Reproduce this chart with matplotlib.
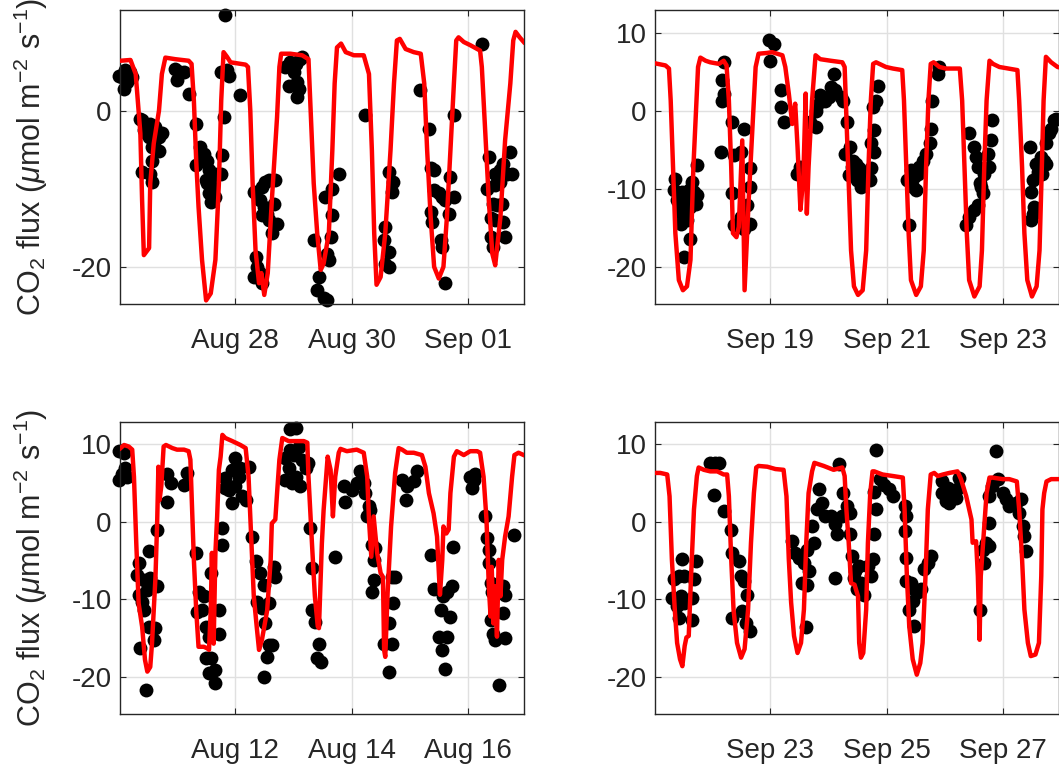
import numpy as np
import matplotlib
matplotlib.use("Agg")
import matplotlib.pyplot as plt
import matplotlib.dates as mdates
from matplotlib.ticker import FixedLocator

plt.rcParams["font.family"] = ["Liberation Sans", "DejaVu Sans"]
plt.rcParams["mathtext.fontset"] = "custom"
plt.rcParams["mathtext.rm"] = "Liberation Sans"
plt.rcParams["mathtext.it"] = "Liberation Sans:italic"
plt.rcParams["axes.unicode_minus"] = False

# ---------------------------------------------------------------------------
# Modelled (line) and measured (dots) CO2 flux, time in days from window start
# ---------------------------------------------------------------------------

# Window 1: Aug 26 - Sep 02
w1_start = "2015-08-26"
w1_model_day = [0.03, 0.20, 0.29, 0.37, 0.40, 0.43, 0.52, 0.54, 0.60, 0.69, 0.74, 0.80, 0.97, 1.20,
                1.25, 1.29, 1.33, 1.37, 1.43, 1.50, 1.58, 1.66, 1.72, 1.76, 1.80, 1.86, 1.92, 2.18,
                2.22, 2.26, 2.30, 2.35, 2.41, 2.45, 2.50, 2.56, 2.63, 2.72, 2.76, 2.79, 2.95, 3.15,
                3.26, 3.29, 3.35, 3.41, 3.47, 3.52, 3.61, 3.67, 3.71, 3.75, 3.82, 3.90, 4.04, 4.21,
                4.30, 4.35, 4.39, 4.43, 4.50, 4.58, 4.67, 4.73, 4.78, 4.83, 4.93, 5.07, 5.19, 5.25,
                5.30, 5.36, 5.42, 5.50, 5.58, 5.64, 5.70, 5.76, 5.80, 5.84, 5.93, 6.04, 6.21, 6.24,
                6.30, 6.36, 6.42, 6.47, 6.56, 6.64, 6.73, 6.78, 6.82, 6.89, 6.96]
w1_model_flux = [6.4, 6.5, 4.7, -2.9, -11.5, -18.5, -17.6, -9.3, -4.2, 0.0, 4.7, 6.8, 6.6, 6.4,
                 6.0, 1.3, -6.4, -12.3, -19.1, -24.3, -23.4, -19.1, -9.3, 1.3, 7.5, 6.9, 6.2, 5.9,
                 5.6, 0.0, -9.3, -17.9, -22.1, -20.8, -23.6, -20.8, -11.5, -0.8, 5.6, 7.3, 7.3, 7.1,
                 6.6, 1.3, -9.3, -15.7, -20.4, -19.6, -15.7, -5.1, 3.5, 8.1, 8.6, 7.5, 7.1, 7.1,
                 4.7, -5.1, -15.7, -22.3, -21.3, -15.7, -5.1, 3.5, 9.0, 9.2, 7.9, 7.5, 7.3, 3.5,
                 -5.1, -13.6, -20.0, -21.5, -20.0, -13.6, -5.1, 3.5, 9.0, 9.4, 8.8, 8.4, 7.7, 5.6,
                 -2.9, -11.5, -18.3, -19.8, -13.6, -3.8, 3.5, 9.0, 10.1, 9.4, 8.8]
w1_obs_day = [0.00, 0.06, 0.09, 0.11, 0.14, 0.17, 0.20, 0.23, 0.37, 0.40, 0.49, 0.54, 0.60, 0.63,
              0.69, 0.74, 0.52, 0.57, 0.69, 0.40, 0.54, 0.57, 0.46, 0.63, 0.43, 0.57, 0.97, 1.06,
              1.12, 1.00, 1.20, 1.32, 1.40, 1.46, 1.52, 1.32, 1.55, 1.58, 1.52, 1.60, 1.55, 1.58,
              1.66, 1.75, 1.78, 1.80, 1.43, 1.49, 1.66, 1.75, 1.83, 1.86, 1.89, 2.09, 2.86, 2.95,
              3.04, 3.12, 3.01, 3.06, 2.92, 3.09, 3.06, 3.15, 2.32, 2.46, 2.52, 2.58, 2.69, 2.43,
              2.49, 2.55, 2.66, 2.46, 2.58, 2.63, 2.72, 2.35, 2.38, 2.32, 2.43, 2.46, 3.35, 3.44,
              3.41, 3.52, 3.58, 3.61, 3.58, 3.64, 3.67, 3.55, 3.67, 3.78, 4.24, 4.64, 4.72, 4.70,
              4.58, 4.55, 4.64, 4.58, 4.64, 5.18, 5.33, 5.36, 5.41, 5.41, 5.50, 5.56, 5.61, 5.70,
              5.76, 5.67, 5.36, 5.39, 5.53, 5.56, 5.61, 5.76, 6.24, 6.36, 6.47, 6.56, 6.67, 6.73,
              6.61, 6.76, 6.33, 6.47, 6.56, 6.44, 6.50, 6.59, 6.39, 6.47, 6.61, 6.39, 6.44, 6.64]
w1_obs_flux = [4.5, 4.3, 2.8, 5.2, 3.7, 4.7, 4.9, 4.3, -1.0, -1.2, -2.1, -1.7, -1.9, -2.1,
               -3.4, -2.9, -3.4, -4.6, -5.1, -7.8, -8.1, -9.1, -2.9, -3.8, -2.5, -6.4, 5.4, 4.9,
               4.9, 3.9, 2.2, -1.7, -4.6, -5.5, -6.4, -7.0, -7.6, -8.5, -9.3, -9.8, -10.6, -11.7,
               -8.1, -8.1, -5.7, -0.8, -6.4, -8.9, -11.0, 4.9, 12.2, 5.2, 4.5, 2.0, 5.6, 6.2,
               6.0, 6.6, 4.9, 3.7, 3.2, 2.8, 1.7, 6.9, -10.4, -9.8, -9.1, -8.9, -8.9, -11.5,
               -12.3, -13.2, -11.9, -13.4, -14.0, -15.7, -14.5, -18.7, -20.0, -21.3, -20.8, -22.1, -16.6, -21.3,
               -23.0, -24.0, -24.3, -19.1, -18.3, -16.2, -13.4, -11.0, -10.0, -8.1, -0.6, -7.8, -9.1, -10.4,
               -14.9, -16.6, -18.1, -19.6, -20.0, 2.6, -2.3, -7.4, -7.6, -10.2, -10.6, -11.0, -11.5, -8.5,
               -11.0, -13.2, -13.0, -14.2, -16.6, -17.4, -22.1, -0.6, 8.6, -5.9, -8.1, -7.6, -8.1, -5.3,
               -6.8, -8.1, -10.0, -9.5, -9.1, -11.9, -12.1, -11.9, -13.8, -14.0, -14.2, -16.2, -17.4, -16.2]

# Window 2: Sep 17 - Sep 24
w2_start = "2015-09-17"
w2_model_day = [0.00, 0.20, 0.26, 0.29, 0.33, 0.37, 0.43, 0.50, 0.57, 0.63, 0.68, 0.72, 0.76, 0.80,
                0.89, 0.97, 1.12, 1.20, 1.25, 1.29, 1.33, 1.36, 1.42, 1.46, 1.52, 1.56, 1.63, 1.69,
                1.75, 1.80, 1.95, 2.03, 2.12, 2.21, 2.26, 2.32, 2.38, 2.43, 2.47, 2.52, 2.57, 2.61,
                2.63, 2.66, 2.72, 2.78, 2.86, 3.04, 3.24, 3.28, 3.31, 3.35, 3.39, 3.44, 3.51, 3.59,
                3.65, 3.69, 3.73, 3.77, 3.82, 3.99, 4.11, 4.27, 4.30, 4.34, 4.38, 4.42, 4.51, 4.59,
                4.64, 4.68, 4.72, 4.76, 4.81, 4.91, 5.02, 5.26, 5.30, 5.34, 5.38, 5.42, 5.51, 5.60,
                5.64, 5.68, 5.72, 5.77, 5.83, 5.94, 6.25, 6.28, 6.33, 6.37, 6.42, 6.50, 6.58, 6.63,
                6.67, 6.70, 6.74, 6.83, 6.94, 7.00]
w2_model_flux = [6.1, 5.8, 5.4, 1.3, -7.2, -15.7, -21.7, -23.0, -22.5, -19.1, -7.2, -0.8, 5.6, 6.8,
                 6.4, 6.2, 6.0, 6.4, 5.8, 1.3, -7.2, -15.7, -16.2, -14.9, -3.8, -23.0, -11.5, -2.9,
                 5.6, 7.3, 7.4, 7.5, 7.3, 7.1, 5.6, 2.2, -1.7, 0.9, -4.6, -12.7, -8.5, 2.2,
                 -13.2, -7.2, 1.3, 7.1, 6.6, 6.4, 6.2, 5.6, -0.8, -9.3, -17.9, -22.5, -23.6, -23.0,
                 -17.9, -7.2, 1.3, 6.0, 6.2, 5.6, 5.4, 5.2, 1.3, -7.2, -15.7, -21.7, -23.6, -22.5,
                 -17.9, -7.2, 1.3, 6.0, 6.2, 5.6, 5.4, 5.4, 1.3, -7.2, -15.7, -21.7, -23.8, -22.5,
                 -17.9, -7.2, 1.3, 6.4, 6.0, 5.6, 5.2, 1.3, -7.2, -15.7, -21.7, -23.8, -22.5, -17.9,
                 -7.2, 1.3, 6.9, 6.2, 5.6, 5.5]
w2_obs_day = [0.37, 0.34, 0.43, 0.49, 0.54, 0.46, 0.52, 0.60, 0.69, 0.74, 0.63, 0.54, 0.46, 0.57,
              0.63, 0.52, 0.72, 0.74, 0.66, 0.40, 0.49, 1.20, 1.17, 1.20, 1.17, 1.15, 1.35, 1.55,
              1.49, 1.37, 1.66, 1.35, 1.66, 1.60, 1.37, 1.55, 1.66, 1.49, 1.98, 2.06, 2.00, 2.18,
              2.18, 2.23, 2.46, 2.52, 2.69, 2.78, 2.81, 2.86, 2.95, 3.01, 3.09, 3.12, 3.21, 3.04,
              3.26, 3.32, 3.38, 3.29, 3.41, 3.49, 2.78, 3.42, 3.48, 3.53, 3.59, 3.65, 3.51, 3.56,
              3.36, 3.71, 3.73, 3.79, 3.79, 3.73, 3.82, 3.76, 3.85, 4.42, 4.36, 4.48, 4.54, 4.45,
              4.56, 4.62, 4.68, 4.74, 4.77, 4.79, 4.88, 4.91, 4.39, 4.51, 5.42, 5.51, 5.54, 5.57,
              5.60, 5.65, 5.68, 5.77, 5.80, 5.82, 5.74, 5.37, 5.42, 5.51, 5.57, 5.63, 6.46, 6.57,
              6.66, 6.71, 6.60, 6.51, 6.68, 6.74, 6.48, 6.54, 6.51, 6.48, 6.74, 6.80, 6.83, 6.88,
              6.91]
w2_obs_flux = [-8.7, -10.2, -11.0, -10.4, -10.6, -12.3, -11.5, -10.2, -10.4, -10.8, -12.3, -13.2, -14.5, -14.0,
               -16.4, -18.7, -11.9, -7.0, -9.1, -11.5, -13.2, 6.2, 3.9, 2.2, 1.3, -5.3, -1.4, -2.3,
               -5.3, -5.7, -7.4, -10.6, -9.8, -12.1, -14.7, -15.1, -14.5, -13.6, 9.0, 8.6, 6.4, 2.6,
               0.5, -1.4, -8.1, -7.2, -1.4, -2.1, 0.7, 2.0, 1.3, 1.7, 4.7, 2.6, 1.7, 3.0,
               1.3, -1.4, -4.6, -5.5, -7.2, -8.9, 0.0, -6.4, -6.8, -7.4, -8.1, -8.9, -8.9, -9.8,
               -8.3, -8.9, -7.4, -5.3, -2.5, -4.2, 1.3, 0.5, 3.2, -7.6, -8.9, -8.5, -8.1, -9.8,
               -7.2, -6.4, -5.5, -4.2, -2.3, 1.3, 4.7, 5.6, -14.7, -10.2, -2.9, -4.6, -5.9, -7.2,
               -9.3, -10.6, -8.1, -7.2, -3.8, -1.2, -5.5, -14.7, -13.6, -12.7, -12.1, -9.8, -4.6, -6.8,
               -5.9, -6.4, -7.8, -8.9, -8.1, -6.8, -10.4, -12.3, -13.2, -14.0, -4.2, -2.9, -2.3, -1.2,
               -1.0]

# Window 3: Aug 10 - Aug 17
w3_start = "2015-08-10"
w3_model_day = [0.03, 0.09, 0.17, 0.23, 0.26, 0.30, 0.34, 0.40, 0.45, 0.49, 0.54, 0.57, 0.63, 0.66,
                0.68, 0.70, 0.73, 0.77, 0.81, 0.92, 1.00, 1.12, 1.20, 1.23, 1.26, 1.29, 1.33, 1.37,
                1.46, 1.52, 1.55, 1.58, 1.60, 1.63, 1.66, 1.69, 1.72, 1.75, 1.78, 1.83, 1.95, 2.09,
                2.18, 2.23, 2.28, 2.32, 2.37, 2.41, 2.46, 2.55, 2.61, 2.63, 2.69, 2.72, 2.76, 2.81,
                2.92, 3.09, 3.18, 3.24, 3.26, 3.32, 3.37, 3.42, 3.44, 3.49, 3.52, 3.59, 3.64, 3.68,
                3.72, 3.78, 3.81, 3.92, 4.09, 4.21, 4.27, 4.30, 4.34, 4.38, 4.44, 4.50, 4.54, 4.56,
                4.58, 4.62, 4.68, 4.75, 4.81, 4.87, 4.95, 5.07, 5.21, 5.27, 5.33, 5.41, 5.47, 5.52,
                5.56, 5.58, 5.63, 5.67, 5.70, 5.76, 5.81, 5.93, 6.04, 6.16, 6.21, 6.27, 6.32, 6.36,
                6.39, 6.41, 6.44, 6.47, 6.50, 6.53, 6.56, 6.59, 6.64, 6.70, 6.76, 6.80, 6.87, 6.96]
w3_model_flux = [9.5, 9.9, 9.7, 9.3, 5.8, -2.8, -10.5, -13.5, -17.8, -19.3, -18.7, -15.7, -7.1, 0.3,
                 7.1, 2.8, 4.6, 9.7, 9.9, 9.5, 9.3, 9.3, 9.1, 8.0, 1.5, -4.9, -11.4, -16.1,
                 -16.1, -16.3, -16.5, -11.4, -4.0, -15.7, -4.0, 0.7, 6.7, 8.4, 11.2, 10.8, 10.4, 9.9,
                 9.5, 5.8, -2.8, -9.6, -13.5, -16.5, -15.2, -11.4, -4.9, -0.2, 0.3, 3.7, 8.0, 10.8,
                 10.4, 10.4, 10.4, 10.2, 5.8, -2.8, -9.6, -13.5, -13.7, -2.8, 1.5, 8.4, 6.7, 0.7,
                 5.8, 8.9, 9.4, 9.1, 9.3, 8.9, 5.8, 0.3, -4.5, 0.7, -4.0, -6.6, -7.1, -16.5,
                 -17.4, -9.2, -0.6, 6.3, 9.5, 9.3, 8.9, 8.9, 8.6, 7.1, 3.7, 1.1, -1.9, -9.4,
                 -4.9, -0.6, -1.5, -1.0, 3.7, 8.4, 9.1, 8.6, 9.1, 9.1, 8.9, 5.8, 0.3, -8.3,
                 -12.2, -5.8, -13.1, -8.3, -14.8, -4.9, -9.6, -4.9, -1.9, 0.7, 5.8, 8.6, 8.9, 8.6]
w3_obs_day = [0.00, 0.09, 0.11, 0.06, 0.00, 0.14, 0.66, 0.52, 0.34, 0.31, 0.43, 0.54, 0.66, 0.34,
              0.40, 0.43, 0.49, 0.52, 0.63, 0.60, 0.37, 0.46, 0.83, 0.89, 1.12, 1.17, 0.83, 1.32,
              1.37, 1.46, 1.43, 1.35, 1.72, 1.49, 1.55, 1.72, 1.49, 1.58, 1.55, 1.66, 1.66, 1.58,
              1.78, 1.78, 2.00, 1.95, 2.09, 2.23, 1.83, 1.89, 2.00, 2.12, 1.95, 2.18, 2.06, 1.83,
              2.29, 2.35, 2.43, 2.49, 2.66, 2.69, 2.38, 2.46, 2.58, 2.52, 2.58, 2.63, 2.55, 2.49,
              2.95, 3.04, 2.86, 2.95, 3.01, 3.09, 3.15, 3.21, 2.92, 3.04, 2.86, 3.12, 2.98, 3.26,
              3.29, 3.32, 3.32, 3.38, 3.44, 3.41, 3.47, 3.72, 3.87, 3.89, 4.01, 4.10, 4.15, 4.21,
              4.24, 4.30, 4.27, 4.32, 4.35, 4.38, 4.41, 4.38, 4.35, 4.55, 4.64, 4.70, 4.72, 4.70,
              4.75, 4.64, 4.87, 4.93, 4.96, 5.07, 5.13, 5.36, 5.41, 5.53, 5.58, 5.64, 5.72, 5.75,
              5.70, 5.50, 5.64, 5.56, 5.61, 6.07, 6.04, 6.10, 6.13, 6.30, 6.33, 6.36, 6.36, 6.39,
              6.41, 6.61, 6.64, 6.39, 6.44, 6.47, 6.61, 6.64, 6.53, 6.79]
w3_obs_flux = [9.1, 8.9, 6.9, 6.1, 5.4, 5.8, -1.0, -3.8, -5.3, -6.8, -7.5, -7.3, -8.3, -9.4,
               -10.3, -11.4, -8.8, -13.5, -13.7, -15.2, -16.3, -21.7, 6.1, 5.0, 4.8, 6.3, 2.6, -4.0,
               -9.0, -9.6, -11.4, -11.6, -11.4, -13.5, -14.8, -14.4, -17.6, -17.6, -19.5, -19.1, -20.8, -6.6,
               -0.8, -3.0, 8.2, 6.7, 6.9, 7.1, 5.6, 4.1, 4.6, 3.3, 2.4, 2.8, 5.8, 4.3,
               -1.9, -5.1, -6.6, -8.1, -5.8, -7.1, -10.3, -11.1, -10.5, -13.1, -15.9, -15.9, -17.4, -20.0,
               11.9, 12.1, 8.2, 9.3, 8.6, 9.7, 8.0, 6.9, 6.9, 5.8, 5.4, 4.6, 5.0, 7.6,
               -0.8, -6.0, -11.4, -12.9, -15.7, -17.6, -18.0, -4.5, 4.6, 2.6, 4.1, 5.0, 6.5, 5.0,
               3.7, 2.0, 0.7, 1.5, -3.0, -4.9, -3.4, -7.5, -9.0, -15.7, -19.3, -15.7, -10.5, -7.1,
               -7.1, -13.1, 5.4, 2.8, 4.6, 5.2, 6.5, -4.3, -8.7, -11.4, -9.6, -9.0, -8.3, -3.2,
               -12.2, -14.8, -14.8, -16.5, -18.9, 4.3, 5.8, 5.4, 6.1, 0.7, -2.1, -3.6, -5.3, -7.9,
               -9.0, -8.3, -9.4, -12.6, -14.4, -15.2, -11.7, -15.0, -21.0, -1.7]

# Window 4: Sep 21 - Sep 28
w4_start = "2015-09-21"
w4_model_day = [0.00, 0.11, 0.23, 0.27, 0.31, 0.36, 0.40, 0.45, 0.49, 0.53, 0.56, 0.60, 0.64, 0.69,
                0.74, 0.77, 0.86, 0.97, 1.09, 1.20, 1.26, 1.29, 1.33, 1.37, 1.43, 1.50, 1.56, 1.62,
                1.67, 1.72, 1.76, 1.80, 1.95, 2.09, 2.23, 2.28, 2.32, 2.36, 2.41, 2.47, 2.53, 2.58,
                2.62, 2.66, 2.72, 2.76, 2.92, 3.09, 3.24, 3.28, 3.31, 3.35, 3.39, 3.45, 3.51, 3.53,
                3.56, 3.60, 3.65, 3.68, 3.72, 3.76, 3.79, 3.93, 4.11, 4.28, 4.31, 4.35, 4.39, 4.45,
                4.52, 4.58, 4.62, 4.67, 4.71, 4.76, 4.82, 4.88, 4.97, 5.08, 5.22, 5.28, 5.37, 5.46,
                5.48, 5.54, 5.57, 5.60, 5.62, 5.68, 5.72, 5.77, 5.82, 6.00, 6.11, 6.24, 6.28, 6.33,
                6.37, 6.43, 6.48, 6.56, 6.62, 6.66, 6.68, 6.71, 6.75, 6.83, 6.94, 7.00]
w4_model_flux = [6.3, 6.3, 6.1, 3.3, -4.8, -11.3, -15.6, -17.7, -18.6, -16.0, -14.9, -14.7, -7.0, 1.6,
                 5.9, 7.0, 6.7, 6.5, 6.5, 6.1, 6.1, 3.3, -4.8, -11.3, -15.6, -17.5, -16.4, -11.3,
                 -2.7, 3.7, 7.0, 7.2, 7.1, 6.8, 6.7, 3.3, -4.8, -10.4, -14.7, -16.9, -15.6, -11.3,
                 -2.7, 3.7, 6.5, 7.6, 7.2, 6.7, 7.0, 5.9, 1.6, -2.7, -7.9, -8.1, -9.6, -15.6,
                 -17.5, -16.9, -11.3, -2.7, 3.7, 6.5, 6.5, 6.1, 5.9, 5.7, 1.6, -7.0, -13.4, -17.7,
                 -19.7, -18.2, -15.6, -7.0, 1.6, 6.1, 6.3, 5.9, 6.1, 6.3, 6.5, 5.5, 3.3, 0.3,
                 -2.7, -2.5, -7.0, -15.2, -7.0, -0.6, 3.7, 5.7, 5.7, 5.5, 5.5, 5.2, 1.6, -4.8,
                 -11.3, -15.6, -17.3, -17.1, -15.6, -7.0, 1.6, 3.7, 5.2, 5.5, 5.5, 5.5]
w4_obs_day = [0.97, 1.06, 1.12, 1.03, 1.20, 1.32, 1.35, 1.46, 1.49, 1.55, 1.60, 1.35, 1.52, 1.58,
              1.66, 0.49, 0.72, 0.34, 0.43, 0.52, 0.69, 0.31, 0.46, 0.66, 0.40, 0.43, 0.66, 0.52,
              2.38, 2.43, 2.49, 2.63, 2.75, 2.58, 2.66, 2.55, 2.63, 2.61, 3.12, 2.72, 2.81, 2.89,
              2.84, 2.95, 3.04, 3.12, 3.15, 3.24, 3.26, 3.32, 3.38, 3.18, 3.38, 3.41, 3.44, 3.49,
              3.45, 3.53, 3.62, 3.56, 3.68, 3.73, 3.76, 3.79, 3.82, 3.79, 3.88, 3.82, 3.96, 4.05,
              4.11, 4.31, 4.33, 4.31, 4.33, 4.33, 4.42, 4.48, 4.54, 4.45, 4.39, 4.48, 4.65, 4.71,
              4.76, 4.59, 4.96, 5.05, 5.14, 5.19, 5.22, 5.25, 4.96, 5.02, 5.08, 5.60, 5.65, 5.68,
              5.71, 5.77, 5.77, 5.77, 5.82, 5.88, 5.91, 6.00, 6.05, 6.11, 6.22, 6.31, 6.28, 6.34,
              6.37, 6.40]
w4_obs_flux = [7.6, 7.6, 7.6, 3.5, 1.4, -1.0, -4.0, -5.1, -7.0, -7.6, -9.4, -12.4, -11.5, -13.0,
               -14.1, -4.8, -5.1, -7.4, -7.0, -7.0, -7.4, -9.8, -9.6, -9.8, -10.9, -12.4, -12.6, -10.4,
               -2.5, -4.0, -4.6, -3.6, -2.7, -5.3, -6.4, -7.9, -8.1, -13.6, -7.2, -0.6, 1.6, 2.4,
               4.2, 0.7, 0.7, -0.3, -1.6, 0.7, 3.7, 2.0, 1.2, 7.4, -1.6, -4.4, -7.2, -8.7,
               -6.3, -5.7, -9.4, -7.9, -5.7, -7.0, -4.8, -1.6, 1.6, 3.9, 5.5, 9.3, 4.8, 4.2,
               3.3, 2.0, 0.7, -1.2, -4.6, -7.6, -7.9, -8.7, -9.1, -10.2, -11.3, -13.4, -6.1, -5.3,
               -4.4, -8.7, 5.2, 4.4, 3.3, 3.1, 4.2, 5.7, 3.7, 2.7, 2.4, -11.3, -3.6, -5.3,
               -2.7, -3.1, -0.1, 3.3, 4.6, 9.1, 5.5, 3.7, 2.9, 2.0, 2.4, 2.9, 1.2, -0.6,
               -1.8, -3.8]

flux_limits = (-24.8, 12.9)
flux_label = r"CO$_2$ flux ($\mu$mol m$^{-2}$ s$^{-1}$)"
text_color = "#262626"
grid_color = "#e0e0e0"

W, H = 1059, 767
fig = plt.figure(figsize=(W / 100, H / 100), dpi=100)


def add_panel(px_left, px_top, px_width, px_height, start, model_day, model_flux,
              obs_day, obs_flux, yticks, with_label):
    ax = fig.add_axes([px_left / W, 1 - (px_top + px_height) / H, px_width / W, px_height / H])
    t0 = mdates.date2num(np.datetime64(start))
    ax.plot(t0 + np.asarray(obs_day), obs_flux, "o", color="black", ms=10, mew=0,
            clip_on=False, zorder=2)
    ax.plot(t0 + np.asarray(model_day), model_flux, "-", color="#ff0000", lw=3.2,
            solid_joinstyle="round", zorder=3)
    ax.set_xlim(t0 + 0.02, t0 + 6.97)
    ax.set_ylim(*flux_limits)
    ax.xaxis.set_major_locator(FixedLocator([t0 + 2, t0 + 4, t0 + 6]))
    ax.xaxis.set_major_formatter(mdates.DateFormatter("%b %d"))
    ax.set_yticks(yticks)
    ax.set_yticklabels([str(v) for v in yticks])
    ax.grid(True, color=grid_color, lw=1.0, zorder=0)
    ax.set_axisbelow(True)
    ax.tick_params(direction="in", length=4, width=0.8, colors=text_color,
                   labelsize=20, top=True, right=True)
    ax.tick_params(axis="x", pad=17)
    ax.tick_params(axis="y", pad=6)
    for s in ax.spines.values():
        s.set_color(text_color)
        s.set_linewidth(1.0)
    if with_label:
        fig.text(31 / W, 1 - (px_top + px_height / 2) / H, flux_label, rotation=90,
                 ha="center", va="center", fontsize=22, color=text_color)
    return ax


add_panel(120, 10, 404.3, 294.3, w1_start, w1_model_day, w1_model_flux,
          w1_obs_day, w1_obs_flux, [-20, 0], True)
add_panel(655, 10, 404.3, 294.3, w2_start, w2_model_day, w2_model_flux,
          w2_obs_day, w2_obs_flux, [-20, -10, 0, 10], False)
add_panel(120, 421.7, 404.3, 292.6, w3_start, w3_model_day, w3_model_flux,
          w3_obs_day, w3_obs_flux, [-20, -10, 0, 10], True)
add_panel(655, 421.7, 404.3, 292.6, w4_start, w4_model_day, w4_model_flux,
          w4_obs_day, w4_obs_flux, [-20, -10, 0, 10], False)

fig.savefig("out.png", dpi=100)
